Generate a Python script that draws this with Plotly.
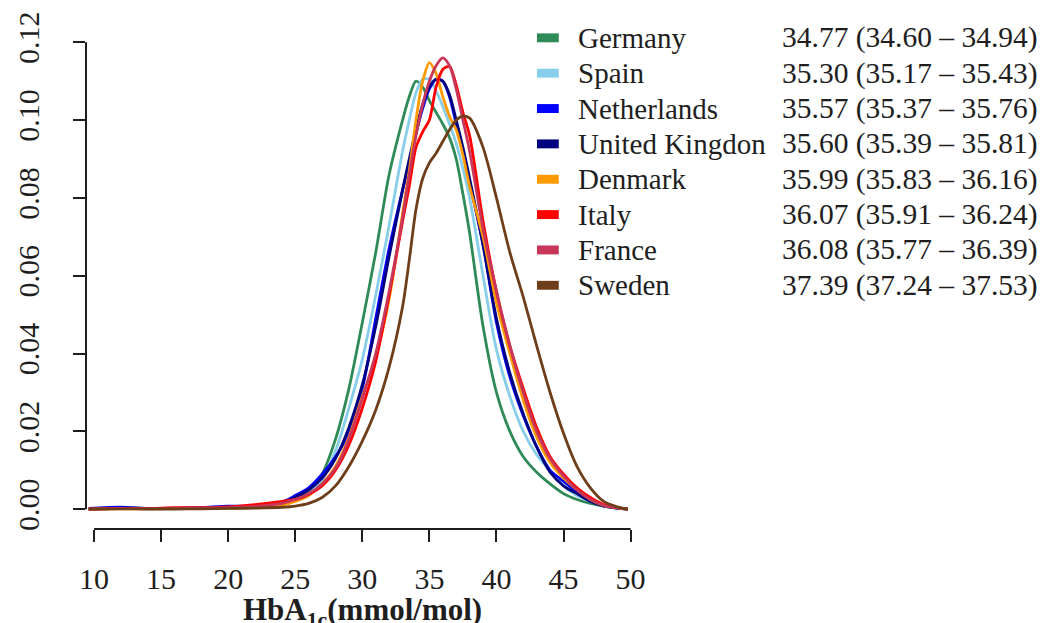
import plotly.graph_objects as go

# ---- data ----
hba1c = [9.6, 12, 14, 16, 18, 20, 22, 24, 25, 26, 27, 28, 29, 30, 31, 32, 33, 33.5, 34, 34.5,
         35, 35.5, 36, 36.5, 37, 37.5, 38, 39, 40, 41, 42, 43, 44, 45, 46, 47, 48, 49, 49.8]

germany = [0.0000, 0.0003, 0.0001, 0.0001, 0.0002, 0.0003, 0.0005, 0.0015,
           0.0030, 0.0045, 0.0090, 0.0180, 0.0310, 0.0480, 0.0660, 0.0860, 0.1000,
           0.1060, 0.1100, 0.1085, 0.1050, 0.1020, 0.0990, 0.0955, 0.0900, 0.0810, 0.0710,
           0.0470, 0.0300, 0.0200, 0.0135, 0.0095, 0.0065, 0.0040, 0.0025, 0.0015, 0.0008,
           0.0003, 0.0000]
spain = [0.0000, 0.0002, 0.0001, 0.0001, 0.0002, 0.0003, 0.0005, 0.0012,
         0.0025, 0.0040, 0.0075, 0.0150, 0.0260, 0.0385, 0.0550, 0.0730, 0.0920,
         0.1000, 0.1070, 0.1105, 0.1105, 0.1075, 0.1035, 0.0990, 0.0940, 0.0875, 0.0800,
         0.0600, 0.0410, 0.0290, 0.0200, 0.0140, 0.0099, 0.0060, 0.0035, 0.0020, 0.0010,
         0.0004, 0.0000]
netherlands = [0.0002, 0.0005, 0.0002, 0.0002, 0.0004, 0.0008, 0.0008, 0.0018,
               0.0035, 0.0055, 0.0090, 0.0135, 0.0195, 0.0310, 0.0490, 0.0670, 0.0820,
               0.0890, 0.0965, 0.1030, 0.1080, 0.1105, 0.1100, 0.1060, 0.0990, 0.0920, 0.0840,
               0.0680, 0.0480, 0.0340, 0.0240, 0.0160, 0.0100, 0.0072, 0.0045, 0.0022, 0.0010,
               0.0004, 0.0000]
united_kingdom = [0.0001, 0.0003, 0.0002, 0.0002, 0.0003, 0.0005, 0.0007, 0.0015,
                  0.0030, 0.0050, 0.0080, 0.0130, 0.0210, 0.0320, 0.0470, 0.0650, 0.0820,
                  0.0900, 0.0975, 0.1040, 0.1085, 0.1105, 0.1100, 0.1065, 0.1000, 0.0930, 0.0850,
                  0.0680, 0.0490, 0.0350, 0.0245, 0.0160, 0.0095, 0.0060, 0.0040, 0.0020, 0.0008,
                  0.0003, 0.0000]
denmark = [0.0000, 0.0001, 0.0001, 0.0001, 0.0002, 0.0003, 0.0005, 0.0010,
           0.0020, 0.0035, 0.0065, 0.0110, 0.0185, 0.0290, 0.0390, 0.0540, 0.0760,
           0.0870, 0.1000, 0.1100, 0.1148, 0.1120, 0.1060, 0.1010, 0.0975, 0.0910, 0.0830,
           0.0700, 0.0530, 0.0400, 0.0280, 0.0185, 0.0120, 0.0080, 0.0050, 0.0025, 0.0010,
           0.0004, 0.0000]
italy = [0.0000, 0.0002, 0.0002, 0.0004, 0.0004, 0.0006, 0.0012, 0.0020,
         0.0025, 0.0038, 0.0060, 0.0100, 0.0165, 0.0260, 0.0380, 0.0550, 0.0740,
         0.0830, 0.0930, 0.0970, 0.1000, 0.1085, 0.1130, 0.1138, 0.1090, 0.1020, 0.0960,
         0.0740, 0.0560, 0.0420, 0.0310, 0.0210, 0.0135, 0.0090, 0.0055, 0.0030, 0.0012,
         0.0004, 0.0000]
france = [0.0000, 0.0002, 0.0001, 0.0002, 0.0003, 0.0004, 0.0007, 0.0015,
          0.0025, 0.0040, 0.0065, 0.0105, 0.0180, 0.0285, 0.0400, 0.0560, 0.0750,
          0.0860, 0.0960, 0.1040, 0.1100, 0.1140, 0.1160, 0.1140, 0.1080, 0.1000, 0.0920,
          0.0720, 0.0560, 0.0420, 0.0300, 0.0200, 0.0130, 0.0085, 0.0050, 0.0025, 0.0010,
          0.0004, 0.0000]
sweden = [0.0000, 0.0001, 0.0001, 0.0001, 0.0001, 0.0002, 0.0003, 0.0005,
          0.0008, 0.0015, 0.0030, 0.0060, 0.0110, 0.0175, 0.0255, 0.0365, 0.0520,
          0.0640, 0.0770, 0.0850, 0.0890, 0.0915, 0.0945, 0.0975, 0.1000, 0.1010, 0.1005,
          0.0930, 0.0800, 0.0660, 0.0545, 0.0420, 0.0300, 0.0195, 0.0110, 0.0055, 0.0020,
          0.0006, 0.0000]

countries = ["Germany", "Spain", "Netherlands", "United Kingdon", "Denmark",
             "Italy", "France", "Sweden"]
stats = ["34.77 (34.60 \u2013 34.94)", "35.30 (35.17 \u2013 35.43)", "35.57 (35.37 \u2013 35.76)",
         "35.60 (35.39 \u2013 35.81)", "35.99 (35.83 \u2013 36.16)", "36.07 (35.91 \u2013 36.24)",
         "36.08 (35.77 \u2013 36.39)", "37.39 (37.24 \u2013 37.53)"]
series = [germany, spain, netherlands, united_kingdom, denmark, italy, france, sweden]
colors = ["#2E8B57", "#87CEEB", "#0000FF", "#000080", "#FF9900", "#FF0000", "#C8375A", "#6E3E1B"]

x_ticks = [10, 15, 20, 25, 30, 35, 40, 45, 50]
y_ticks = [0.00, 0.02, 0.04, 0.06, 0.08, 0.10, 0.12]
y_ticklabels = ["0.00", "0.02", "0.04", "0.06", "0.08", "0.10", "0.12"]

FONT = "Liberation Serif"
INK = "#1e1e1e"

fig = go.Figure()
for name, ys, col in zip(countries, series, colors):
    fig.add_trace(go.Scatter(x=hba1c, y=ys, mode="lines", name=name,
                             line=dict(color=col, width=2.8, shape="spline", smoothing=0.8),
                             showlegend=False, hoverinfo="skip"))

# plot area geometry (pixels)
L, R, T, B = 81, 408, 15, 94
W, H = 1052, 623
pw, ph = W - L - R, H - T - B

shapes = []
# y axis line (0 .. 0.12)
shapes.append(dict(type="line", xref="paper", yref="y", x0=0, x1=0,
                   y0=y_ticks[0], y1=y_ticks[-1], line=dict(color=INK, width=2)))
# x axis line (10 .. 50)
shapes.append(dict(type="line", xref="x", yref="paper", x0=x_ticks[0], x1=x_ticks[-1],
                   y0=0, y1=0, line=dict(color=INK, width=2)))

annotations = []
row0, step = 33, 35.7
for i, (name, st, col) in enumerate(zip(countries, stats, colors)):
    py = row0 + step * i
    yp = (H - B - py) / ph
    shapes.append(dict(type="rect", xref="paper", yref="paper",
                       x0=(536 - L) / pw, x1=(558 - L) / pw,
                       y0=yp - 4.5 / ph, y1=yp + 4.5 / ph,
                       fillcolor=col, line=dict(width=0)))
    annotations.append(dict(xref="paper", yref="paper", x=(575 - L) / pw, y=yp,
                            xanchor="left", yanchor="middle", text=name, showarrow=False,
                            font=dict(family=FONT, size=29, color=INK)))
    annotations.append(dict(xref="paper", yref="paper", x=(781 - L) / pw, y=yp,
                            xanchor="left", yanchor="middle", text=st, showarrow=False,
                            font=dict(family=FONT, size=29.5, color=INK)))

# x-axis title
annotations.append(dict(xref="x", yref="paper", x=30, y=(H - B - 613) / ph,
                        xanchor="center", yanchor="middle",
                        text="<b>HbA<sub>1c</sub>(mmol/mol)</b>", showarrow=False,
                        font=dict(family=FONT, size=31, color=INK)))

fig.update_layout(
    width=W, height=H, margin=dict(l=L, r=R, t=T, b=B, pad=0),
    paper_bgcolor="white", plot_bgcolor="white",
    showlegend=False, shapes=shapes, annotations=annotations,
    xaxis=dict(range=[9.40, 51.0], tickvals=x_ticks, ticktext=[str(v) for v in x_ticks],
               ticks="outside", ticklen=12, tickwidth=2, tickcolor=INK,
               showline=False, showgrid=False, zeroline=False,
               ticklabelstandoff=11,
               tickfont=dict(family=FONT, size=30, color=INK)),
    yaxis=dict(range=[-0.00509, 0.12573], tickvals=y_ticks, ticktext=y_ticklabels,
               ticks="outside", ticklen=12, tickwidth=2, tickcolor=INK, tickangle=-90,
               showline=False, showgrid=False, zeroline=False,
               ticklabelstandoff=22,
               tickfont=dict(family=FONT, size=30, color=INK)),
)

fig.write_html("out.html", config={"displayModeBar": False},
               post_script="document.body.style.margin='0px';"
                           "document.body.style.overflow='hidden';")
